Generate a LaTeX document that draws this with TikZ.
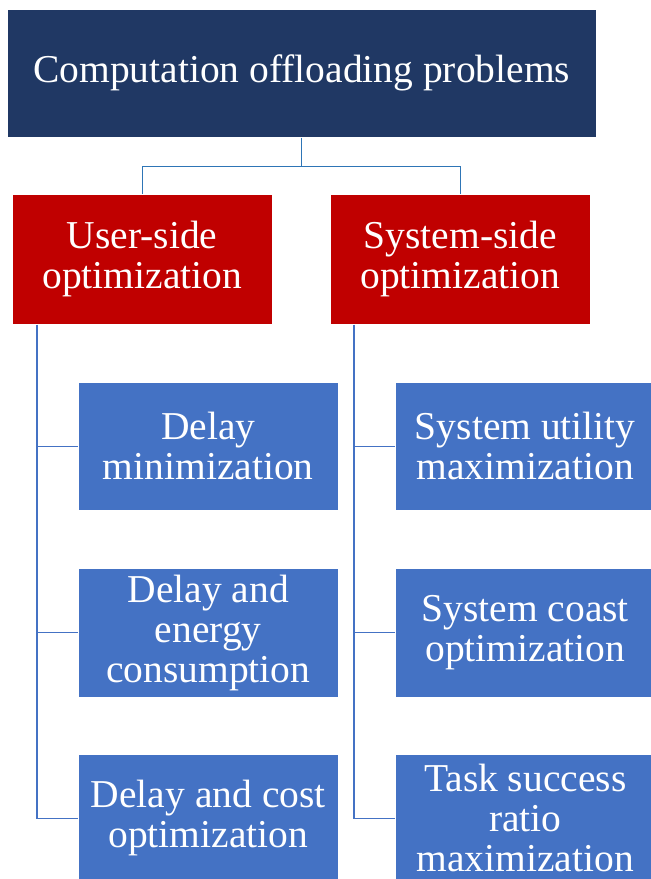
\documentclass[tikz,border=0pt]{standalone}
\usepackage{fontspec}
\setmainfont{Liberation Serif}
\definecolor{navy}{HTML}{203864}
\definecolor{darkred}{HTML}{C00000}
\definecolor{midblue}{HTML}{4472C4}
\definecolor{linkblue}{HTML}{2E75B6}
\begin{document}
\begin{tikzpicture}[x=1pt,y=-1pt,
  box/.style={anchor=north west, inner sep=0pt, text=white, align=center,
    font=\fontsize{39.5}{40}\selectfont, draw=white, line width=0.5pt},
  rootbox/.style={box, fill=navy, minimum width=589pt, minimum height=128pt},
  sidebox/.style={box, fill=darkred, minimum width=260pt, minimum height=130pt},
  leafbox/.style={box, fill=midblue, minimum width=260pt, minimum height=128pt},
  toplink/.style={draw=linkblue, line width=1.4pt},
  branch/.style={draw=midblue, line width=1.2pt}]
\useasboundingbox (0,0) rectangle (651,879);
\clip (0,0) rectangle (651,879);

% root and the two sides
\node[rootbox] (root) at (7,9) {Computation offloading problems};
\node[sidebox] (us) at (12,194) {User-side\\optimization};
\node[sidebox] (ss) at (330,194) {System-side\\optimization};

% user-side leaves
\node[leafbox] (d1) at (78,382) {Delay\\minimization};
\node[leafbox, minimum height=129pt] (d2) at (78,568) {Delay and\\energy\\consumption};
\node[leafbox] (d3) at (78,754) {Delay and cost\\optimization};

% system-side leaves
\node[leafbox] (s1) at (395,382) {System utility\\maximization};
\node[leafbox, minimum height=129pt] (s2) at (395,568) {System coast\\optimization};
\node[leafbox] (s3) at (395,754) {Task success\\ratio\\maximization};

% root to sides
\draw[toplink] (root.south) -- ++(0,29) coordinate (hub);
\draw[toplink] (us.north) |- (hub) -| (ss.north);

% spines to leaves
\coordinate (lsp) at ([xshift=25pt]us.south west);
\coordinate (rsp) at ([xshift=24pt]ss.south west);
\draw[branch] (lsp) |- (d3.west);
\draw[branch] (lsp |- d1.west) -- (d1.west);
\draw[branch] (lsp |- d2.west) -- (d2.west);
\draw[branch] (rsp) |- (s3.west);
\draw[branch] (rsp |- s1.west) -- (s1.west);
\draw[branch] (rsp |- s2.west) -- (s2.west);
\end{tikzpicture}
\end{document}
